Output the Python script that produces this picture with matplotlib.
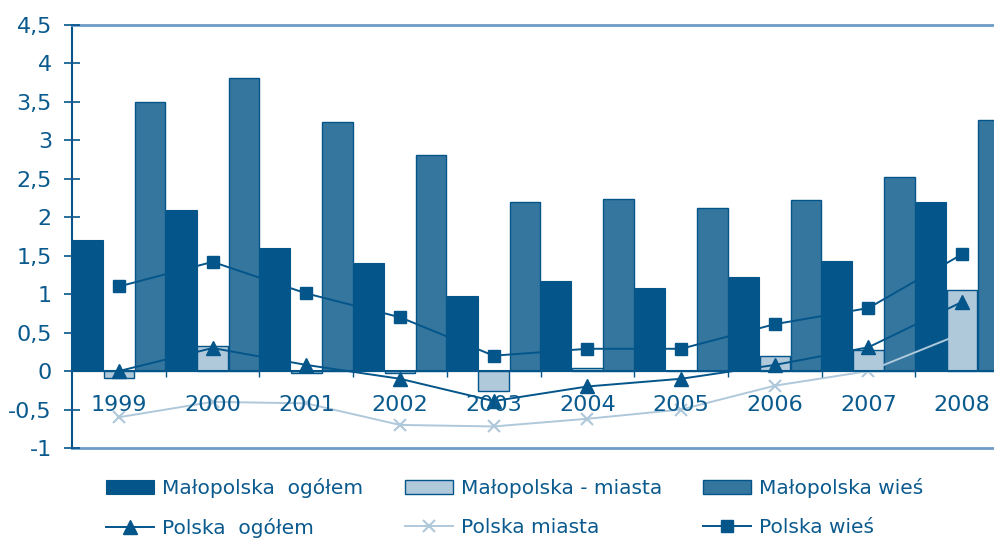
import numpy as np
import matplotlib.pyplot as plt
from matplotlib.ticker import FuncFormatter

# data
years = ['1999', '2000', '2001', '2002', '2003', '2004', '2005', '2006', '2007', '2008']
malopolska_ogolem = [1.70, 2.10, 1.60, 1.41, 0.98, 1.17, 1.08, 1.22, 1.43, 2.20]
malopolska_miasta = [-0.09, 0.32, -0.02, -0.02, -0.26, 0.04, 0.0, 0.20, 0.28, 1.05]
malopolska_wies = [3.50, 3.81, 3.24, 2.81, 2.20, 2.24, 2.12, 2.22, 2.53, 3.26]
polska_ogolem = [0.0, 0.30, 0.08, -0.10, -0.39, -0.20, -0.10, 0.08, 0.31, 0.90]
polska_miasta = [-0.60, -0.40, -0.42, -0.70, -0.72, -0.62, -0.50, -0.19, 0.0, 0.49]
polska_wies = [1.10, 1.42, 1.01, 0.70, 0.20, 0.29, 0.29, 0.61, 0.82, 1.52]

dark = '#03558A'
mid = '#35769F'
light = '#AFC8DA'
txt = '#0A5A8E'
frame = '#6E9CC7'

fig = plt.figure(figsize=(9.95, 5.38), dpi=100)
# axes run past the right edge, as in the cropped original
ax = fig.add_axes([0.0724, 0.1673, 0.9417, 0.7862])

x = np.arange(len(years))
w = 0.325
step = 1 / 3

b1 = ax.bar(x - step, malopolska_ogolem, w, color=dark, edgecolor=dark, linewidth=0.8,
            label='Małopolska  ogółem')
b2 = ax.bar(x, malopolska_miasta, w, color=light, edgecolor=dark, linewidth=1.0,
            label='Małopolska - miasta')
b3 = ax.bar(x + step, malopolska_wies, w, color=mid, edgecolor=dark, linewidth=1.0,
            label='Małopolska wieś')

l1, = ax.plot(x, polska_ogolem, color=dark, lw=1.4, marker='^', ms=9.5,
              label='Polska  ogółem')
l2, = ax.plot(x, polska_miasta, color=light, lw=1.4, marker='x', ms=9, mew=1.5,
              label='Polska miasta')
l3, = ax.plot(x, polska_wies, color=dark, lw=1.4, marker='s', ms=8.5,
              label='Polska wieś')

ax.set_xlim(-0.5, len(years) - 0.5)
ax.set_ylim(-1, 4.5)
ax.set_axisbelow(False)

# y axis
ax.set_yticks(np.arange(-1, 4.51, 0.5))
ax.yaxis.set_major_formatter(FuncFormatter(lambda v, p: f'{v:g}'.replace('.', ',')))
ax.tick_params(axis='y', direction='inout', length=11, width=1.2, color=dark,
               labelsize=16, labelcolor=txt, pad=9)

# x axis sits at zero, labels inside the plot
ax.spines['bottom'].set_position(('data', 0))
ax.spines['bottom'].set_color(dark)
ax.spines['bottom'].set_linewidth(1.5)
ax.set_xticks(x[:-1] + 0.5)
ax.set_xticklabels([])
ax.set_xticks(x, minor=True)
ax.set_xticklabels(years, minor=True)
ax.tick_params(axis='x', which='major', direction='out', length=4.5, width=1.0, color=dark)
ax.tick_params(axis='x', which='minor', length=0, pad=17, labelsize=16, labelcolor=txt)

ax.spines['left'].set_color(dark)
ax.spines['left'].set_linewidth(1.5)
ax.spines['top'].set_color(frame)
ax.spines['top'].set_linewidth(2)
ax.spines['right'].set_visible(False)
ax.axhline(-1, color=frame, lw=2, clip_on=False, zorder=2.5)

# legend: three columns placed separately so they line up like the original
cols = [(b1, l1), (b2, l2), (b3, l3)]
xs = [0.1065, 0.407, 0.7065]
for (bar, line), xpos in zip(cols, xs):
    leg = fig.legend([bar, line], [bar.get_label(), line.get_label()],
                     loc='center left', bbox_to_anchor=(xpos, 0.056),
                     frameon=False, fontsize=14.5, labelcolor=txt,
                     handlelength=2.4, handletextpad=0.4, labelspacing=1.0,
                     borderpad=0, borderaxespad=0)

fig.savefig('out.png', dpi=100)
